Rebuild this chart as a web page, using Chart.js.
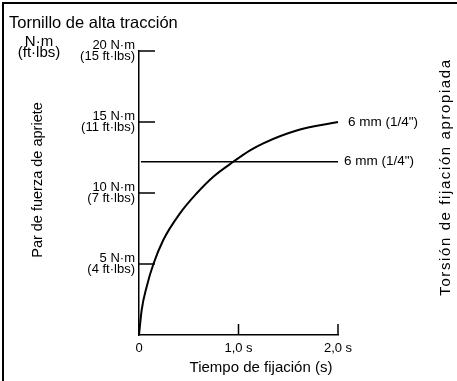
<!DOCTYPE html>
<html>
<head>
<meta charset="utf-8">
<script src="https://cdn.jsdelivr.net/npm/chart.js@4"></script>
<style>
  html, body { margin: 0; padding: 0; background: #fff; }
  #wrap { width: 457px; height: 381px; }
</style>
</head>
<body>
<div id="wrap"><canvas id="myChart"></canvas></div>
<script>
// curve: time (s) -> torque (N·m)
const curveTime = [0, 0.027, 0.077, 0.144, 0.244, 0.412, 0.58, 0.747, 0.948, 1.116, 1.249, 1.585, 2.0];
const curveTorque = [0, 1.76, 3.4, 4.98, 6.69, 8.57, 9.98, 11.15, 12.2, 13.0, 13.5, 14.4, 15.0];

// proper torque line
const lineTime = [0.02, 2.0];
const lineTorque = [12.2, 12.2];

const seriesLabels = ['6 mm (1/4")', '6 mm (1/4")'];

const xTicks = [0, 1, 2];
const xTickLabels = ['0', '1,0 s', '2,0 s'];
const yTicksNm = [5, 10, 15, 20];
const yTicksFt = [4, 7, 11, 15];

const FONT = "'Liberation Sans', Arial, sans-serif";

const annotations = {
  id: 'annotations',
  afterDraw(chart) {
    const ctx = chart.ctx;
    const xs = chart.scales.x, ys = chart.scales.y;
    const ax = xs.getPixelForValue(0), ay = ys.getPixelForValue(0);
    ctx.save();
    ctx.strokeStyle = '#000';
    ctx.fillStyle = '#000';

    // frame (top and left only)
    ctx.lineWidth = 2;
    ctx.beginPath();
    ctx.moveTo(3, 381);
    ctx.lineTo(3, 3);
    ctx.lineTo(457, 3);
    ctx.stroke();

    // inward tick marks
    ctx.lineWidth = 1.5;
    ctx.beginPath();
    yTicksNm.forEach(v => {
      const y = ys.getPixelForValue(v);
      ctx.moveTo(ax, y);
      ctx.lineTo(ax + 16, y);
    });
    xTicks.slice(1).forEach(v => {
      const x = xs.getPixelForValue(v);
      ctx.moveTo(x, ay);
      ctx.lineTo(x, ay - 11);
    });
    ctx.stroke();

    // texts
    ctx.textBaseline = 'middle';
    ctx.textAlign = 'left';
    ctx.font = '16.5px ' + FONT;
    ctx.fillText('Tornillo de alta tracción', 9, 23);

    ctx.textAlign = 'center';
    ctx.font = '15px ' + FONT;
    ctx.fillText('N·m', 39, 42);
    ctx.fillText('(ft·lbs)', 39, 53);

    ctx.fillText('Tiempo de fijación (s)', 261, 368);

    // series end labels
    ctx.textAlign = 'left';
    ctx.font = '13.5px ' + FONT;
    chart.data.datasets.forEach((ds, i) => {
      const pts = chart.getDatasetMeta(i).data;
      const p = pts[pts.length - 1];
      ctx.fillText(seriesLabels[i], p.x + (i === 0 ? 10 : 6), p.y);
    });

    // rotated axis titles
    ctx.font = '14.5px ' + FONT;
    ctx.textAlign = 'center';
    ctx.save();
    ctx.translate(38, 180);
    ctx.rotate(-Math.PI / 2);
    ctx.fillText('Par de fuerza de apriete', 0, 0);
    ctx.restore();
    ctx.save();
    ctx.font = '15px ' + FONT;
    ctx.letterSpacing = '1.6px';
    ctx.translate(446, 177);
    ctx.rotate(-Math.PI / 2);
    ctx.fillText('Torsión de fijación apropiada', 0, 0);
    ctx.restore();

    ctx.restore();
  }
};

new Chart('myChart', {
  type: 'line',
  data: {
    datasets: [{
      data: curveTime.map((t, i) => ({ x: t, y: curveTorque[i] })),
      borderColor: '#000',
      borderWidth: 2,
      pointRadius: 0,
      cubicInterpolationMode: 'monotone',
      clip: false
    }, {
      data: lineTime.map((t, i) => ({ x: t, y: lineTorque[i] })),
      borderColor: '#000',
      borderWidth: 1.5,
      pointRadius: 0,
      clip: false
    }]
  },
  options: {
    responsive: true,
    maintainAspectRatio: false,
    animation: false,
    events: [],
    layout: { padding: { left: 0, top: 51, right: 119, bottom: 0 } },
    plugins: { legend: { display: false }, tooltip: { enabled: false } },
    scales: {
      x: {
        type: 'linear',
        min: 0,
        max: 2,
        afterBuildTicks: s => { s.ticks = xTicks.map(v => ({ value: v })); },
        afterFit: s => { s.height = 46; },
        grid: { display: false, drawTicks: false },
        border: { display: true, color: '#000', width: 1.5 },
        ticks: {
          color: '#000',
          padding: 6,
          maxRotation: 0,
          font: { family: FONT, size: 13 },
          callback: (v) => xTickLabels[xTicks.indexOf(v)]
        }
      },
      y: {
        type: 'linear',
        min: 0,
        max: 20,
        afterBuildTicks: s => { s.ticks = yTicksNm.map(v => ({ value: v })); },
        afterFit: s => { s.width = 139; },
        grid: { display: false, drawTicks: false },
        border: { display: true, color: '#000', width: 1.5 },
        ticks: {
          color: '#000',
          padding: 4,
          font: { family: FONT, size: 13, lineHeight: 0.9 },
          callback: (v) => {
            const i = yTicksNm.indexOf(v);
            return [v + ' N·m', '(' + yTicksFt[i] + ' ft·lbs)'];
          }
        }
      }
    }
  },
  plugins: [annotations]
});
</script>
</body>
</html>
